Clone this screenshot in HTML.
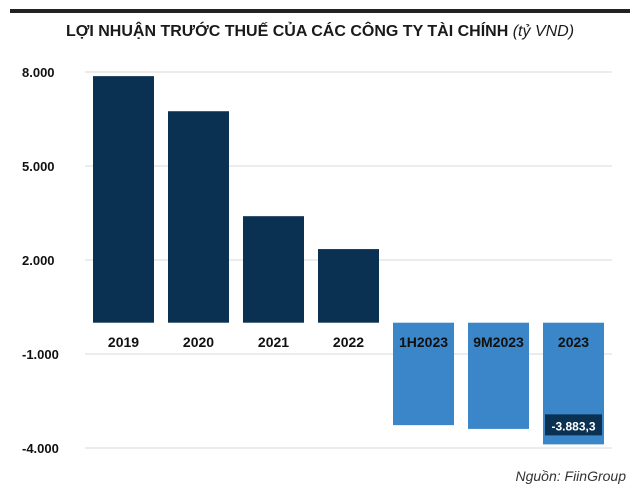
<!DOCTYPE html>
<html><head><meta charset="utf-8"><style>
body{margin:0;background:#fff;}
svg{display:block;font-family:"Liberation Sans",sans-serif;}
</style></head><body>
<svg id="c" width="640" height="495" viewBox="0 0 640 495">
<rect x="10" y="9" width="620" height="4" fill="#222"/>
<text x="320" y="36" text-anchor="middle" font-size="16" font-weight="bold" fill="#1a1a1a" style="font-family:'Liberation Sans Narrow','Liberation Sans',sans-serif">LỢI NHUẬN TRƯỚC THUẾ CỦA CÁC CÔNG TY TÀI CHÍNH <tspan font-weight="normal" font-style="italic">(tỷ VND)</tspan></text>
<g id="grid"></g><g id="bars"></g><g id="labels"></g>
<text x="626" y="481" text-anchor="end" font-size="14" font-style="italic" fill="#333">Nguồn: FiinGroup</text>
</svg>
<script>
const categories=["2019","2020","2021","2022","1H2023","9M2023","2023"];
const values=[7870,6750,3400,2350,-3270,-3390,-3883.3];
const ticks=[8000,5000,2000,-1000,-4000];
const tickLabels=["8.000","5.000","2.000","-1.000","-4.000"];
const ns="http://www.w3.org/2000/svg";
const y=v=>322.7-v*0.03133;
const x=i=>93+i*75;
const bw=61;
function mk(t,a,p){const e=document.createElementNS(ns,t);for(const k in a)e.setAttribute(k,a[k]);p.appendChild(e);return e;}
const g=document.getElementById('grid'),b=document.getElementById('bars'),l=document.getElementById('labels');
ticks.forEach((t,i)=>{
 const ln=mk('line',{x1:85,x2:612,y1:y(t),y2:y(t),stroke:'#d9d9d9','stroke-width':1},g);
 
 
 const tx=mk('text',{x:22,y:y(t)+5,'font-size':13,'font-weight':'bold',fill:'#111'},g);
 tx.textContent=tickLabels[i];
 
 
});
values.forEach((v,i)=>{
 const top=v>=0?y(v):y(0), h=Math.abs(y(v)-y(0));
 const r=mk('rect',{x:x(i),y:top,width:bw,height:h,fill:v>=0?'#0b3152':'#3a86c8'},b);
 
 
 const t=mk('text',{x:x(i)+bw/2,y:347,'text-anchor':'middle','font-size':14,'font-weight':'bold',fill:'#111'},l);
 t.textContent=categories[i];
 
 
});
const last=values.length-1;
const box=mk('rect',{x:x(last)+2,y:y(values[last])-30,width:bw-4,height:21,fill:'#0b3152'},l);


const vt=mk('text',{x:x(last)+bw/2,y:y(values[last])-14,'text-anchor':'middle','font-size':12,'font-weight':'bold',fill:'#fff'},l);
vt.textContent=values[last].toFixed(1).replace('.',',').replace(/(\d)(\d{3}),/,'$1.$2,');


</script>
</body></html>
